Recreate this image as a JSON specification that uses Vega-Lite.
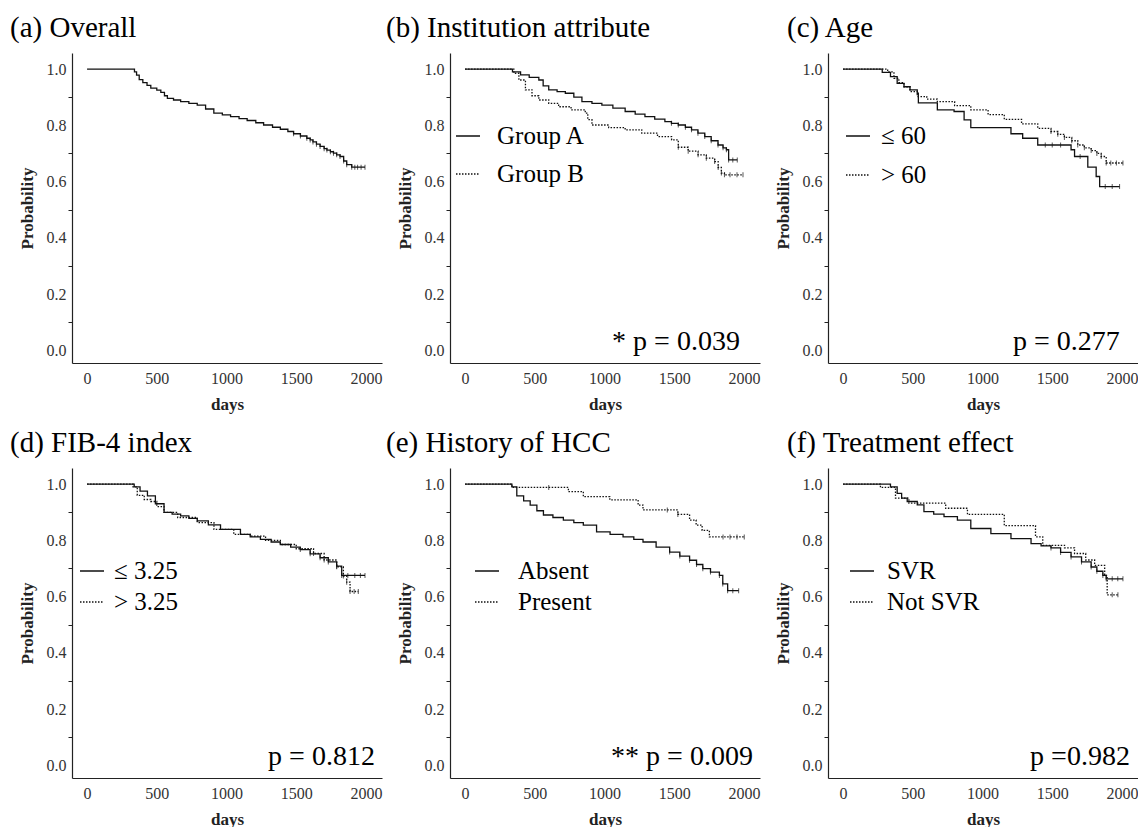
{
"$schema":"https://vega.github.io/schema/vega-lite/v6.json",
"background":"white",
"padding":{"left":10,"top":14,"right":0,"bottom":0},
"config":{
 "view":{"stroke":null},
 "title":{"font":"Liberation Serif","fontSize":29,"fontWeight":"normal","anchor":"start","frame":"group","color":"#000","offset":10},
 "axis":{"domainColor":"#222","domainWidth":1.2,"labelFont":"Liberation Serif","labelFontSize":16,"labelColor":"#333","titleFont":"Liberation Serif","titleFontSize":17,"titleFontWeight":"bold","titleColor":"#222","grid":false,"tickColor":"#222"},
 "axisX":{"ticks":false,"labelPadding":7,"titlePadding":10,"labelFlush":false},
 "axisY":{"tickSize":4,"labelPadding":2,"titlePadding":10},
 "legend":{"orient":"none","symbolType":"stroke","symbolSize":576,"symbolStrokeWidth":1.4,"symbolStrokeColor":"#111","labelFont":"Liberation Serif","labelFontSize":25,"labelColor":"#000","labelLimit":300}
},
"datasets":{
"km":[
{"p":"a","g":"All","d":0,"s":1,"c":0},{"p":"a","g":"All","d":340,"s":0.99,"c":0},{"p":"a","g":"All","d":355,"s":0.978,"c":0},{"p":"a","g":"All","d":374,"s":0.962,"c":0},{"p":"a","g":"All","d":400,"s":0.952,"c":0},{"p":"a","g":"All","d":430,"s":0.942,"c":0},{"p":"a","g":"All","d":457,"s":0.932,"c":0},{"p":"a","g":"All","d":500,"s":0.925,"c":0},{"p":"a","g":"All","d":529,"s":0.917,"c":0},{"p":"a","g":"All","d":555,"s":0.905,"c":0},{"p":"a","g":"All","d":576,"s":0.896,"c":0},{"p":"a","g":"All","d":620,"s":0.89,"c":0},{"p":"a","g":"All","d":671,"s":0.884,"c":0},{"p":"a","g":"All","d":730,"s":0.878,"c":0},{"p":"a","g":"All","d":790,"s":0.872,"c":0},{"p":"a","g":"All","d":850,"s":0.858,"c":0},{"p":"a","g":"All","d":909,"s":0.843,"c":0},{"p":"a","g":"All","d":970,"s":0.837,"c":0},{"p":"a","g":"All","d":1029,"s":0.831,"c":0},{"p":"a","g":"All","d":1090,"s":0.824,"c":0},{"p":"a","g":"All","d":1148,"s":0.817,"c":0},{"p":"a","g":"All","d":1210,"s":0.809,"c":0},{"p":"a","g":"All","d":1266,"s":0.801,"c":0},{"p":"a","g":"All","d":1330,"s":0.793,"c":0},{"p":"a","g":"All","d":1386,"s":0.786,"c":0},{"p":"a","g":"All","d":1440,"s":0.778,"c":0},{"p":"a","g":"All","d":1481,"s":0.770,"c":1},{"p":"a","g":"All","d":1530,"s":0.762,"c":1},{"p":"a","g":"All","d":1576,"s":0.754,"c":1},{"p":"a","g":"All","d":1600,"s":0.748,"c":1},{"p":"a","g":"All","d":1620,"s":0.741,"c":1},{"p":"a","g":"All","d":1645,"s":0.733,"c":1},{"p":"a","g":"All","d":1671,"s":0.725,"c":1},{"p":"a","g":"All","d":1700,"s":0.717,"c":1},{"p":"a","g":"All","d":1720,"s":0.712,"c":1},{"p":"a","g":"All","d":1745,"s":0.706,"c":1},{"p":"a","g":"All","d":1767,"s":0.701,"c":1},{"p":"a","g":"All","d":1790,"s":0.695,"c":1},{"p":"a","g":"All","d":1814,"s":0.689,"c":1},{"p":"a","g":"All","d":1840,"s":0.673,"c":1},{"p":"a","g":"All","d":1862,"s":0.660,"c":1},{"p":"a","g":"All","d":1898,"s":0.651,"c":1},{"p":"a","g":"All","d":1920,"s":0.651,"c":1},{"p":"a","g":"All","d":1940,"s":0.651,"c":1},{"p":"a","g":"All","d":1965,"s":0.651,"c":1},{"p":"a","g":"All","d":1993,"s":0.651,"c":1},

{"p":"b","g":"Group A","d":0,"s":1,"c":0},{"p":"b","g":"Group A","d":340,"s":0.99,"c":0},{"p":"b","g":"Group A","d":398,"s":0.979,"c":0},{"p":"b","g":"Group A","d":460,"s":0.97,"c":0},{"p":"b","g":"Group A","d":529,"s":0.961,"c":0},{"p":"b","g":"Group A","d":560,"s":0.94,"c":0},{"p":"b","g":"Group A","d":600,"s":0.926,"c":0},{"p":"b","g":"Group A","d":660,"s":0.92,"c":0},{"p":"b","g":"Group A","d":719,"s":0.914,"c":0},{"p":"b","g":"Group A","d":780,"s":0.9,"c":0},{"p":"b","g":"Group A","d":838,"s":0.884,"c":0},{"p":"b","g":"Group A","d":910,"s":0.878,"c":0},{"p":"b","g":"Group A","d":981,"s":0.872,"c":0},{"p":"b","g":"Group A","d":1060,"s":0.861,"c":0},{"p":"b","g":"Group A","d":1148,"s":0.849,"c":0},{"p":"b","g":"Group A","d":1220,"s":0.84,"c":0},{"p":"b","g":"Group A","d":1290,"s":0.831,"c":0},{"p":"b","g":"Group A","d":1360,"s":0.822,"c":0},{"p":"b","g":"Group A","d":1433,"s":0.813,"c":0},{"p":"b","g":"Group A","d":1480,"s":0.807,"c":1},{"p":"b","g":"Group A","d":1529,"s":0.801,"c":1},{"p":"b","g":"Group A","d":1580,"s":0.793,"c":1},{"p":"b","g":"Group A","d":1624,"s":0.784,"c":1},{"p":"b","g":"Group A","d":1670,"s":0.772,"c":1},{"p":"b","g":"Group A","d":1719,"s":0.760,"c":1},{"p":"b","g":"Group A","d":1765,"s":0.745,"c":1},{"p":"b","g":"Group A","d":1814,"s":0.730,"c":1},{"p":"b","g":"Group A","d":1850,"s":0.72,"c":1},{"p":"b","g":"Group A","d":1874,"s":0.713,"c":1},{"p":"b","g":"Group A","d":1890,"s":0.677,"c":1},{"p":"b","g":"Group A","d":1920,"s":0.677,"c":1},{"p":"b","g":"Group A","d":1952,"s":0.677,"c":1},
{"p":"b","g":"Group B","d":0,"s":1,"c":0},{"p":"b","g":"Group B","d":350,"s":0.985,"c":0},{"p":"b","g":"Group B","d":386,"s":0.961,"c":0},{"p":"b","g":"Group B","d":433,"s":0.926,"c":0},{"p":"b","g":"Group B","d":480,"s":0.905,"c":0},{"p":"b","g":"Group B","d":529,"s":0.890,"c":0},{"p":"b","g":"Group B","d":600,"s":0.878,"c":0},{"p":"b","g":"Group B","d":671,"s":0.866,"c":0},{"p":"b","g":"Group B","d":760,"s":0.855,"c":0},{"p":"b","g":"Group B","d":862,"s":0.843,"c":0},{"p":"b","g":"Group B","d":880,"s":0.82,"c":0},{"p":"b","g":"Group B","d":910,"s":0.801,"c":0},{"p":"b","g":"Group B","d":1030,"s":0.792,"c":0},{"p":"b","g":"Group B","d":1148,"s":0.784,"c":0},{"p":"b","g":"Group B","d":1267,"s":0.772,"c":0},{"p":"b","g":"Group B","d":1380,"s":0.76,"c":0},{"p":"b","g":"Group B","d":1481,"s":0.748,"c":0},{"p":"b","g":"Group B","d":1529,"s":0.722,"c":1},{"p":"b","g":"Group B","d":1600,"s":0.708,"c":1},{"p":"b","g":"Group B","d":1671,"s":0.695,"c":1},{"p":"b","g":"Group B","d":1730,"s":0.683,"c":1},{"p":"b","g":"Group B","d":1790,"s":0.671,"c":1},{"p":"b","g":"Group B","d":1815,"s":0.65,"c":1},{"p":"b","g":"Group B","d":1838,"s":0.630,"c":1},{"p":"b","g":"Group B","d":1860,"s":0.624,"c":1},{"p":"b","g":"Group B","d":1900,"s":0.624,"c":1},{"p":"b","g":"Group B","d":1950,"s":0.624,"c":1},{"p":"b","g":"Group B","d":1993,"s":0.624,"c":1},

{"p":"c","g":"≤ 60","d":0,"s":1,"c":0},{"p":"c","g":"≤ 60","d":281,"s":0.988,"c":0},{"p":"c","g":"≤ 60","d":340,"s":0.973,"c":0},{"p":"c","g":"≤ 60","d":388,"s":0.949,"c":0},{"p":"c","g":"≤ 60","d":437,"s":0.937,"c":0},{"p":"c","g":"≤ 60","d":480,"s":0.926,"c":0},{"p":"c","g":"≤ 60","d":532,"s":0.914,"c":0},{"p":"c","g":"≤ 60","d":540,"s":0.880,"c":0},{"p":"c","g":"≤ 60","d":676,"s":0.855,"c":0},{"p":"c","g":"≤ 60","d":796,"s":0.849,"c":0},{"p":"c","g":"≤ 60","d":868,"s":0.819,"c":0},{"p":"c","g":"≤ 60","d":916,"s":0.792,"c":0},{"p":"c","g":"≤ 60","d":1204,"s":0.770,"c":0},{"p":"c","g":"≤ 60","d":1288,"s":0.754,"c":0},{"p":"c","g":"≤ 60","d":1396,"s":0.730,"c":0},{"p":"c","g":"≤ 60","d":1450,"s":0.73,"c":1},{"p":"c","g":"≤ 60","d":1500,"s":0.73,"c":1},{"p":"c","g":"≤ 60","d":1560,"s":0.73,"c":1},{"p":"c","g":"≤ 60","d":1635,"s":0.713,"c":0},{"p":"c","g":"≤ 60","d":1660,"s":0.689,"c":0},{"p":"c","g":"≤ 60","d":1700,"s":0.689,"c":1},{"p":"c","g":"≤ 60","d":1755,"s":0.651,"c":0},{"p":"c","g":"≤ 60","d":1815,"s":0.618,"c":0},{"p":"c","g":"≤ 60","d":1840,"s":0.582,"c":0},{"p":"c","g":"≤ 60","d":1880,"s":0.582,"c":1},{"p":"c","g":"≤ 60","d":1930,"s":0.582,"c":1},{"p":"c","g":"≤ 60","d":1983,"s":0.582,"c":1},
{"p":"c","g":"> 60","d":0,"s":1,"c":0},{"p":"c","g":"> 60","d":320,"s":0.99,"c":0},{"p":"c","g":"> 60","d":365,"s":0.967,"c":0},{"p":"c","g":"> 60","d":400,"s":0.952,"c":0},{"p":"c","g":"> 60","d":437,"s":0.937,"c":0},{"p":"c","g":"> 60","d":480,"s":0.92,"c":0},{"p":"c","g":"> 60","d":532,"s":0.902,"c":0},{"p":"c","g":"> 60","d":600,"s":0.893,"c":0},{"p":"c","g":"> 60","d":676,"s":0.884,"c":0},{"p":"c","g":"> 60","d":800,"s":0.87,"c":0},{"p":"c","g":"> 60","d":916,"s":0.855,"c":0},{"p":"c","g":"> 60","d":1040,"s":0.838,"c":0},{"p":"c","g":"> 60","d":1156,"s":0.821,"c":0},{"p":"c","g":"> 60","d":1280,"s":0.805,"c":0},{"p":"c","g":"> 60","d":1396,"s":0.789,"c":0},{"p":"c","g":"> 60","d":1491,"s":0.778,"c":1},{"p":"c","g":"> 60","d":1540,"s":0.768,"c":1},{"p":"c","g":"> 60","d":1587,"s":0.757,"c":1},{"p":"c","g":"> 60","d":1640,"s":0.745,"c":1},{"p":"c","g":"> 60","d":1683,"s":0.730,"c":1},{"p":"c","g":"> 60","d":1730,"s":0.72,"c":1},{"p":"c","g":"> 60","d":1779,"s":0.710,"c":1},{"p":"c","g":"> 60","d":1820,"s":0.70,"c":1},{"p":"c","g":"> 60","d":1851,"s":0.689,"c":1},{"p":"c","g":"> 60","d":1887,"s":0.666,"c":1},{"p":"c","g":"> 60","d":1920,"s":0.666,"c":1},{"p":"c","g":"> 60","d":1960,"s":0.666,"c":1},{"p":"c","g":"> 60","d":2007,"s":0.666,"c":1},

{"p":"d","g":"≤ 3.25","d":0,"s":1,"c":0},{"p":"d","g":"≤ 3.25","d":338,"s":0.99,"c":0},{"p":"d","g":"≤ 3.25","d":380,"s":0.975,"c":0},{"p":"d","g":"≤ 3.25","d":433,"s":0.958,"c":0},{"p":"d","g":"≤ 3.25","d":490,"s":0.93,"c":0},{"p":"d","g":"≤ 3.25","d":552,"s":0.899,"c":0},{"p":"d","g":"≤ 3.25","d":610,"s":0.893,"c":0},{"p":"d","g":"≤ 3.25","d":671,"s":0.887,"c":0},{"p":"d","g":"≤ 3.25","d":730,"s":0.878,"c":0},{"p":"d","g":"≤ 3.25","d":790,"s":0.869,"c":0},{"p":"d","g":"≤ 3.25","d":870,"s":0.855,"c":0},{"p":"d","g":"≤ 3.25","d":957,"s":0.839,"c":0},{"p":"d","g":"≤ 3.25","d":1100,"s":0.821,"c":0},{"p":"d","g":"≤ 3.25","d":1170,"s":0.812,"c":0},{"p":"d","g":"≤ 3.25","d":1243,"s":0.803,"c":0},{"p":"d","g":"≤ 3.25","d":1320,"s":0.794,"c":0},{"p":"d","g":"≤ 3.25","d":1386,"s":0.785,"c":0},{"p":"d","g":"≤ 3.25","d":1460,"s":0.776,"c":0},{"p":"d","g":"≤ 3.25","d":1529,"s":0.767,"c":1},{"p":"d","g":"≤ 3.25","d":1600,"s":0.752,"c":1},{"p":"d","g":"≤ 3.25","d":1671,"s":0.738,"c":1},{"p":"d","g":"≤ 3.25","d":1730,"s":0.723,"c":1},{"p":"d","g":"≤ 3.25","d":1790,"s":0.708,"c":1},{"p":"d","g":"≤ 3.25","d":1826,"s":0.675,"c":1},{"p":"d","g":"≤ 3.25","d":1870,"s":0.675,"c":1},{"p":"d","g":"≤ 3.25","d":1920,"s":0.675,"c":1},{"p":"d","g":"≤ 3.25","d":1960,"s":0.675,"c":1},{"p":"d","g":"≤ 3.25","d":1993,"s":0.675,"c":1},
{"p":"d","g":"> 3.25","d":0,"s":1,"c":0},{"p":"d","g":"> 3.25","d":330,"s":0.99,"c":0},{"p":"d","g":"> 3.25","d":360,"s":0.96,"c":0},{"p":"d","g":"> 3.25","d":410,"s":0.945,"c":0},{"p":"d","g":"> 3.25","d":457,"s":0.938,"c":0},{"p":"d","g":"> 3.25","d":500,"s":0.92,"c":0},{"p":"d","g":"> 3.25","d":552,"s":0.899,"c":0},{"p":"d","g":"> 3.25","d":650,"s":0.881,"c":0},{"p":"d","g":"> 3.25","d":790,"s":0.863,"c":0},{"p":"d","g":"> 3.25","d":910,"s":0.839,"c":0},{"p":"d","g":"> 3.25","d":1052,"s":0.821,"c":0},{"p":"d","g":"> 3.25","d":1170,"s":0.815,"c":0},{"p":"d","g":"> 3.25","d":1280,"s":0.80,"c":0},{"p":"d","g":"> 3.25","d":1386,"s":0.785,"c":0},{"p":"d","g":"> 3.25","d":1500,"s":0.77,"c":0},{"p":"d","g":"> 3.25","d":1624,"s":0.753,"c":1},{"p":"d","g":"> 3.25","d":1700,"s":0.73,"c":1},{"p":"d","g":"> 3.25","d":1790,"s":0.706,"c":1},{"p":"d","g":"> 3.25","d":1838,"s":0.673,"c":1},{"p":"d","g":"> 3.25","d":1862,"s":0.651,"c":1},{"p":"d","g":"> 3.25","d":1886,"s":0.618,"c":1},{"p":"d","g":"> 3.25","d":1915,"s":0.618,"c":1},{"p":"d","g":"> 3.25","d":1945,"s":0.618,"c":1},

{"p":"e","g":"Absent","d":0,"s":1,"c":0},{"p":"e","g":"Absent","d":336,"s":0.99,"c":0},{"p":"e","g":"Absent","d":371,"s":0.958,"c":0},{"p":"e","g":"Absent","d":420,"s":0.94,"c":0},{"p":"e","g":"Absent","d":467,"s":0.925,"c":0},{"p":"e","g":"Absent","d":515,"s":0.905,"c":0},{"p":"e","g":"Absent","d":562,"s":0.890,"c":0},{"p":"e","g":"Absent","d":630,"s":0.881,"c":0},{"p":"e","g":"Absent","d":705,"s":0.872,"c":0},{"p":"e","g":"Absent","d":780,"s":0.863,"c":0},{"p":"e","g":"Absent","d":848,"s":0.854,"c":0},{"p":"e","g":"Absent","d":943,"s":0.830,"c":0},{"p":"e","g":"Absent","d":1040,"s":0.821,"c":0},{"p":"e","g":"Absent","d":1133,"s":0.812,"c":0},{"p":"e","g":"Absent","d":1210,"s":0.803,"c":0},{"p":"e","g":"Absent","d":1276,"s":0.794,"c":0},{"p":"e","g":"Absent","d":1370,"s":0.776,"c":0},{"p":"e","g":"Absent","d":1467,"s":0.758,"c":1},{"p":"e","g":"Absent","d":1540,"s":0.744,"c":1},{"p":"e","g":"Absent","d":1610,"s":0.729,"c":1},{"p":"e","g":"Absent","d":1660,"s":0.714,"c":1},{"p":"e","g":"Absent","d":1705,"s":0.699,"c":1},{"p":"e","g":"Absent","d":1760,"s":0.687,"c":1},{"p":"e","g":"Absent","d":1824,"s":0.675,"c":1},{"p":"e","g":"Absent","d":1848,"s":0.645,"c":1},{"p":"e","g":"Absent","d":1883,"s":0.621,"c":1},{"p":"e","g":"Absent","d":1920,"s":0.621,"c":1},{"p":"e","g":"Absent","d":1962,"s":0.621,"c":1},
{"p":"e","g":"Present","d":0,"s":1,"c":0},{"p":"e","g":"Present","d":336,"s":0.988,"c":0},{"p":"e","g":"Present","d":600,"s":0.988,"c":1},{"p":"e","g":"Present","d":741,"s":0.973,"c":0},{"p":"e","g":"Present","d":848,"s":0.955,"c":0},{"p":"e","g":"Present","d":1038,"s":0.944,"c":0},{"p":"e","g":"Present","d":1241,"s":0.925,"c":0},{"p":"e","g":"Present","d":1276,"s":0.908,"c":0},{"p":"e","g":"Present","d":1450,"s":0.908,"c":1},{"p":"e","g":"Present","d":1526,"s":0.892,"c":1},{"p":"e","g":"Present","d":1610,"s":0.872,"c":0},{"p":"e","g":"Present","d":1657,"s":0.854,"c":0},{"p":"e","g":"Present","d":1700,"s":0.835,"c":0},{"p":"e","g":"Present","d":1752,"s":0.812,"c":0},{"p":"e","g":"Present","d":1850,"s":0.812,"c":1},{"p":"e","g":"Present","d":1900,"s":0.812,"c":1},{"p":"e","g":"Present","d":1950,"s":0.812,"c":1},{"p":"e","g":"Present","d":2002,"s":0.812,"c":1},

{"p":"f","g":"SVR","d":0,"s":1,"c":0},{"p":"f","g":"SVR","d":340,"s":0.99,"c":0},{"p":"f","g":"SVR","d":388,"s":0.967,"c":0},{"p":"f","g":"SVR","d":420,"s":0.95,"c":0},{"p":"f","g":"SVR","d":460,"s":0.938,"c":0},{"p":"f","g":"SVR","d":532,"s":0.926,"c":0},{"p":"f","g":"SVR","d":580,"s":0.902,"c":0},{"p":"f","g":"SVR","d":650,"s":0.893,"c":0},{"p":"f","g":"SVR","d":724,"s":0.884,"c":0},{"p":"f","g":"SVR","d":820,"s":0.872,"c":0},{"p":"f","g":"SVR","d":916,"s":0.842,"c":0},{"p":"f","g":"SVR","d":1060,"s":0.824,"c":0},{"p":"f","g":"SVR","d":1204,"s":0.806,"c":0},{"p":"f","g":"SVR","d":1348,"s":0.788,"c":0},{"p":"f","g":"SVR","d":1420,"s":0.780,"c":0},{"p":"f","g":"SVR","d":1491,"s":0.773,"c":1},{"p":"f","g":"SVR","d":1560,"s":0.757,"c":1},{"p":"f","g":"SVR","d":1635,"s":0.741,"c":1},{"p":"f","g":"SVR","d":1710,"s":0.723,"c":1},{"p":"f","g":"SVR","d":1779,"s":0.705,"c":1},{"p":"f","g":"SVR","d":1820,"s":0.69,"c":1},{"p":"f","g":"SVR","d":1863,"s":0.675,"c":1},{"p":"f","g":"SVR","d":1887,"s":0.663,"c":1},{"p":"f","g":"SVR","d":1930,"s":0.663,"c":1},{"p":"f","g":"SVR","d":1970,"s":0.663,"c":1},{"p":"f","g":"SVR","d":2007,"s":0.663,"c":1},
{"p":"f","g":"Not SVR","d":0,"s":1,"c":0},{"p":"f","g":"Not SVR","d":268,"s":0.988,"c":0},{"p":"f","g":"Not SVR","d":376,"s":0.950,"c":0},{"p":"f","g":"Not SVR","d":472,"s":0.932,"c":0},{"p":"f","g":"Not SVR","d":736,"s":0.914,"c":0},{"p":"f","g":"Not SVR","d":892,"s":0.892,"c":0},{"p":"f","g":"Not SVR","d":1156,"s":0.852,"c":0},{"p":"f","g":"Not SVR","d":1380,"s":0.812,"c":0},{"p":"f","g":"Not SVR","d":1432,"s":0.782,"c":0},{"p":"f","g":"Not SVR","d":1588,"s":0.773,"c":0},{"p":"f","g":"Not SVR","d":1660,"s":0.753,"c":0},{"p":"f","g":"Not SVR","d":1740,"s":0.73,"c":0},{"p":"f","g":"Not SVR","d":1804,"s":0.711,"c":0},{"p":"f","g":"Not SVR","d":1876,"s":0.675,"c":0},{"p":"f","g":"Not SVR","d":1894,"s":0.606,"c":0},{"p":"f","g":"Not SVR","d":1930,"s":0.606,"c":1},{"p":"f","g":"Not SVR","d":1971,"s":0.606,"c":1}
]},
"resolve":{"scale":{"x":"independent","y":"independent","strokeDash":"independent"},"legend":{"strokeDash":"independent"}},
"bounds":"flush",
"columns":3,
"spacing":{"row":105,"column":68},
"concat":[
 {"width":310,"height":310,"title":{"text":"(a) Overall","dx":-62},"data":{"name":"km"},
  "encoding":{"x":{"field":"d","type":"quantitative","scale":{"domain":[-108,2115],"nice":false,"zero":false},"axis":{"title":"days","values":[0,500,1000,1500,2000],"format":"d"}},
   "y":{"field":"s","type":"quantitative","scale":{"domain":[-0.045,1.057],"nice":false,"zero":false},"axis":{"title":"Probability","values":[0,0.1,0.2,0.3,0.4,0.5,0.6,0.7,0.8,0.9,1],"labelExpr":"round(datum.value*10)%2==0 ? format(datum.value,'.1f') : ''","tickOpacity":{"condition":{"test":"round(datum.value*10)%2==1","value":1},"value":0}}}},
  "layer":[
   {"transform":[{"filter":"datum.p==='a'"}],"mark":{"type":"line","interpolate":"step-after","color":"#111","strokeWidth":1.3}},
   {"transform":[{"filter":"datum.p==='a' && datum.c==1"}],"mark":{"type":"tick","orient":"vertical","size":5,"thickness":1,"color":"#111"}}
  ]},
 {"width":310,"height":310,"title":{"text":"(b) Institution attribute","dx":-64},"data":{"name":"km"},
  "encoding":{"x":{"field":"d","type":"quantitative","scale":{"domain":[-108,2115],"nice":false,"zero":false},"axis":{"title":"days","values":[0,500,1000,1500,2000],"format":"d"}},
   "y":{"field":"s","type":"quantitative","scale":{"domain":[-0.045,1.057],"nice":false,"zero":false},"axis":{"title":"Probability","values":[0,0.1,0.2,0.3,0.4,0.5,0.6,0.7,0.8,0.9,1],"labelExpr":"round(datum.value*10)%2==0 ? format(datum.value,'.1f') : ''","tickOpacity":{"condition":{"test":"round(datum.value*10)%2==1","value":1},"value":0}}}},
  "layer":[
   {"transform":[{"filter":"datum.p==='b'"}],"mark":{"type":"line","interpolate":"step-after","color":"#111","strokeWidth":1.3},
    "encoding":{"strokeDash":{"field":"g","type":"nominal","scale":{"domain":["Group A","Group B"],"range":[[1,0],[1.5,1.5]]},"legend":{"title":null,"legendX":5,"legendY":70,"rowPadding":12,"labelOffset":16}}}},
   {"transform":[{"filter":"datum.p==='b' && datum.c==1"}],"mark":{"type":"tick","orient":"vertical","size":5,"thickness":1,"color":"#111"}},
   {"transform":[{"filter":"datum.p==='b' && datum.d==0 && datum.g==='Group A'"}],"mark":{"type":"text","align":"right","baseline":"alphabetic","font":"Liberation Serif","fontSize":28,"fill":"#000","text":"* p = 0.039"},
    "encoding":{"x":{"datum":1971,"type":"quantitative"},"y":{"datum":0,"type":"quantitative"}}}
  ]},
 {"width":310,"height":310,"title":{"text":"(c) Age","dx":-41},"data":{"name":"km"},
  "encoding":{"x":{"field":"d","type":"quantitative","scale":{"domain":[-108,2115],"nice":false,"zero":false},"axis":{"title":"days","values":[0,500,1000,1500,2000],"format":"d"}},
   "y":{"field":"s","type":"quantitative","scale":{"domain":[-0.045,1.057],"nice":false,"zero":false},"axis":{"title":"Probability","values":[0,0.1,0.2,0.3,0.4,0.5,0.6,0.7,0.8,0.9,1],"labelExpr":"round(datum.value*10)%2==0 ? format(datum.value,'.1f') : ''","tickOpacity":{"condition":{"test":"round(datum.value*10)%2==1","value":1},"value":0}}}},
  "layer":[
   {"transform":[{"filter":"datum.p==='c'"}],"mark":{"type":"line","interpolate":"step-after","color":"#111","strokeWidth":1.3},
    "encoding":{"strokeDash":{"field":"g","type":"nominal","scale":{"domain":["≤ 60","> 60"],"range":[[1,0],[1.5,1.5]]},"legend":{"title":null,"legendX":17,"legendY":70,"rowPadding":13,"labelOffset":10}}}},
   {"transform":[{"filter":"datum.p==='c' && datum.c==1"}],"mark":{"type":"tick","orient":"vertical","size":5,"thickness":1,"color":"#111"}},
   {"transform":[{"filter":"datum.p==='c' && datum.d==0 && datum.g==='> 60'"}],"mark":{"type":"text","align":"right","baseline":"alphabetic","font":"Liberation Serif","fontSize":28,"fill":"#000","text":"p = 0.277"},
    "encoding":{"x":{"datum":1985,"type":"quantitative"},"y":{"datum":0,"type":"quantitative"}}}
  ]},
 {"width":310,"height":310,"title":{"text":"(d) FIB-4 index","dx":-62},"data":{"name":"km"},
  "encoding":{"x":{"field":"d","type":"quantitative","scale":{"domain":[-108,2115],"nice":false,"zero":false},"axis":{"title":"days","values":[0,500,1000,1500,2000],"format":"d"}},
   "y":{"field":"s","type":"quantitative","scale":{"domain":[-0.045,1.057],"nice":false,"zero":false},"axis":{"title":"Probability","values":[0,0.1,0.2,0.3,0.4,0.5,0.6,0.7,0.8,0.9,1],"labelExpr":"round(datum.value*10)%2==0 ? format(datum.value,'.1f') : ''","tickOpacity":{"condition":{"test":"round(datum.value*10)%2==1","value":1},"value":0}}}},
  "layer":[
   {"transform":[{"filter":"datum.p==='d'"}],"mark":{"type":"line","interpolate":"step-after","color":"#111","strokeWidth":1.3},
    "encoding":{"strokeDash":{"field":"g","type":"nominal","scale":{"domain":["≤ 3.25","> 3.25"],"range":[[1,0],[1.5,1.5]]},"legend":{"title":null,"legendX":7,"legendY":90,"rowPadding":5,"labelOffset":9}}}},
   {"transform":[{"filter":"datum.p==='d' && datum.c==1"}],"mark":{"type":"tick","orient":"vertical","size":5,"thickness":1,"color":"#111"}},
   {"transform":[{"filter":"datum.p==='d' && datum.d==0 && datum.g==='> 3.25'"}],"mark":{"type":"text","align":"right","baseline":"alphabetic","font":"Liberation Serif","fontSize":28,"fill":"#000","text":"p = 0.812"},
    "encoding":{"x":{"datum":2064,"type":"quantitative"},"y":{"datum":0,"type":"quantitative"}}}
  ]},
 {"width":310,"height":310,"title":{"text":"(e) History of HCC","dx":-64},"data":{"name":"km"},
  "encoding":{"x":{"field":"d","type":"quantitative","scale":{"domain":[-108,2115],"nice":false,"zero":false},"axis":{"title":"days","values":[0,500,1000,1500,2000],"format":"d"}},
   "y":{"field":"s","type":"quantitative","scale":{"domain":[-0.045,1.057],"nice":false,"zero":false},"axis":{"title":"Probability","values":[0,0.1,0.2,0.3,0.4,0.5,0.6,0.7,0.8,0.9,1],"labelExpr":"round(datum.value*10)%2==0 ? format(datum.value,'.1f') : ''","tickOpacity":{"condition":{"test":"round(datum.value*10)%2==1","value":1},"value":0}}}},
  "layer":[
   {"transform":[{"filter":"datum.p==='e'"}],"mark":{"type":"line","interpolate":"step-after","color":"#111","strokeWidth":1.3},
    "encoding":{"strokeDash":{"field":"g","type":"nominal","scale":{"domain":["Absent","Present"],"range":[[1,0],[1.5,1.5]]},"legend":{"title":null,"legendX":24,"legendY":90,"rowPadding":5,"labelOffset":18}}}},
   {"transform":[{"filter":"datum.p==='e' && datum.c==1"}],"mark":{"type":"tick","orient":"vertical","size":5,"thickness":1,"color":"#111"}},
   {"transform":[{"filter":"datum.p==='e' && datum.d==0 && datum.g==='Present'"}],"mark":{"type":"text","align":"right","baseline":"alphabetic","font":"Liberation Serif","fontSize":28,"fill":"#000","text":"** p = 0.009"},
    "encoding":{"x":{"datum":2064,"type":"quantitative"},"y":{"datum":0,"type":"quantitative"}}}
  ]},
 {"width":310,"height":310,"title":{"text":"(f) Treatment effect","dx":-41},"data":{"name":"km"},
  "encoding":{"x":{"field":"d","type":"quantitative","scale":{"domain":[-108,2115],"nice":false,"zero":false},"axis":{"title":"days","values":[0,500,1000,1500,2000],"format":"d"}},
   "y":{"field":"s","type":"quantitative","scale":{"domain":[-0.045,1.057],"nice":false,"zero":false},"axis":{"title":"Probability","values":[0,0.1,0.2,0.3,0.4,0.5,0.6,0.7,0.8,0.9,1],"labelExpr":"round(datum.value*10)%2==0 ? format(datum.value,'.1f') : ''","tickOpacity":{"condition":{"test":"round(datum.value*10)%2==1","value":1},"value":0}}}},
  "layer":[
   {"transform":[{"filter":"datum.p==='f'"}],"mark":{"type":"line","interpolate":"step-after","color":"#111","strokeWidth":1.3},
    "encoding":{"strokeDash":{"field":"g","type":"nominal","scale":{"domain":["SVR","Not SVR"],"range":[[1,0],[1.5,1.5]]},"legend":{"title":null,"legendX":21,"legendY":90,"rowPadding":5,"labelOffset":12}}}},
   {"transform":[{"filter":"datum.p==='f' && datum.c==1"}],"mark":{"type":"tick","orient":"vertical","size":5,"thickness":1,"color":"#111"}},
   {"transform":[{"filter":"datum.p==='f' && datum.d==0 && datum.g==='SVR'"}],"mark":{"type":"text","align":"right","baseline":"alphabetic","font":"Liberation Serif","fontSize":28,"fill":"#000","text":"p =0.982"},
    "encoding":{"x":{"datum":2057,"type":"quantitative"},"y":{"datum":0,"type":"quantitative"}}}
  ]}
]
}
